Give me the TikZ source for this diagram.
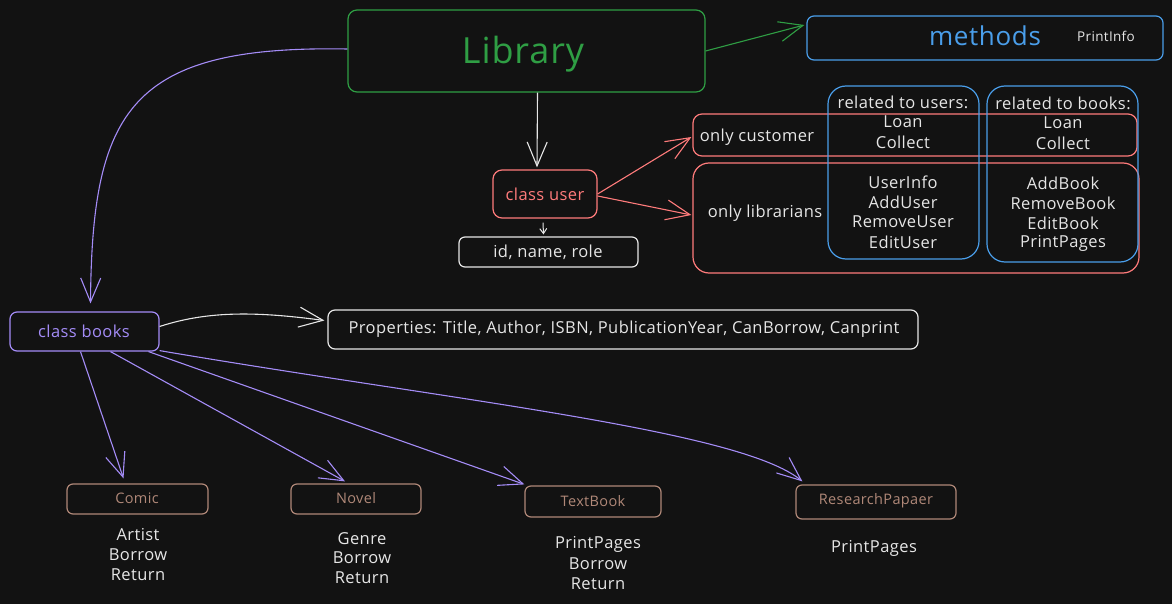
\documentclass[tikz,border=0pt]{standalone}
\usepackage{fontspec}
\setmainfont{Open Sans}[LetterSpace=2.5]
\usetikzlibrary{arrows.meta}
\definecolor{bg}{HTML}{121212}
\definecolor{cgreen}{HTML}{2F9E44}
\definecolor{cblue}{HTML}{4A9EEA}
\definecolor{cred}{HTML}{FF7B7B}
\definecolor{cpurple}{HTML}{A48CF7}
\definecolor{cbrown}{HTML}{B08878}
\definecolor{cwhite}{HTML}{E6E6E6}
\tikzset{
  box/.style={draw, rounded corners=9pt, line width=1.2pt, inner sep=0pt},
  txt/.style={text=cwhite, font=\fontsize{16.5}{18}\selectfont, inner sep=0pt},
  arr/.style={line width=1.1pt, -{Straight Barb[length=24pt, width=20pt, line width=1.1pt]}},
  sarr/.style={line width=1pt, -{Straight Barb[length=5pt, width=7pt, line width=1pt]}},
}
\begin{document}
\begin{tikzpicture}[x=1pt, y=-1pt]
\fill[bg] (0,0) rectangle (1172,604);
\useasboundingbox (0,0) rectangle (1172,604);

% Library
\node[box, draw=cgreen, minimum width=357pt, minimum height=82pt] (lib) at (526.5,51) {};
\node[text=cgreen, font=\fontsize{36}{40}\selectfont] (libt) at (523,54) {Library};

% methods
\node[box, draw=cblue, minimum width=356pt, minimum height=44pt, rounded corners=7pt] (meth) at (985,38) {};
\node[text=cblue, font=\fontsize{26}{30}\selectfont, inner sep=0pt] (metht) at (985,36) {methods};
\node[txt, font=\fontsize{13.5}{16}\selectfont] (pinfo) at (1106,36) {PrintInfo};

% class user
\node[box, draw=cred, minimum width=104pt, minimum height=48pt] (user) at (545,194) {};
\node[text=cred, font=\fontsize{16.5}{18}\selectfont] (usert) at (545,194) {class user};
\node[box, draw=cwhite, minimum width=179pt, minimum height=30pt, rounded corners=6pt] (ids) at (548.5,252) {};
\node[txt] (idst) at (548,252) {id, name, role};

% red boxes
\node[box, draw=cred, minimum width=444pt, minimum height=42pt] (cust) at (915,135) {};
\node[box, draw=cred, minimum width=446pt, minimum height=110pt, rounded corners=16pt] (libr) at (916,218) {};
\node[txt] (custt) at (757,137) {only customer};
\node[txt] (librt) at (765,213) {only librarians};

% blue boxes
\node[box, draw=cblue, minimum width=151pt, minimum height=173pt, rounded corners=18pt] (ub) at (903.5,172.5) {};
\node[box, draw=cblue, minimum width=151pt, minimum height=176pt, rounded corners=18pt] (bb) at (1062.5,174) {};
\node[txt] (ubh) at (903,102) {related to users:};
\node[txt] (bbh) at (1063,103) {related to books:};
\node[txt] (u1) at (903,122) {Loan};
\node[txt] (u2) at (903,142) {Collect};
\node[txt] (u3) at (903,182) {UserInfo};
\node[txt] (u4) at (903,202) {AddUser};
\node[txt] (u5) at (903,222) {RemoveUser};
\node[txt] (u6) at (903,242) {EditUser};
\node[txt] (b1) at (1063,123) {Loan};
\node[txt] (b2) at (1063,143) {Collect};
\node[txt] (b3) at (1063,183) {AddBook};
\node[txt] (b4) at (1063,203) {RemoveBook};
\node[txt] (b5) at (1063,223) {EditBook};
\node[txt] (b6) at (1063,243) {PrintPages};

% class books
\node[box, draw=cpurple, minimum width=149pt, minimum height=39pt, rounded corners=7pt] (books) at (84.5,331.5) {};
\node[text=cpurple, font=\fontsize{16.5}{18}\selectfont] (bookst) at (84,331) {class books};
\node[box, draw=cwhite, minimum width=590pt, minimum height=39pt, rounded corners=7pt] (props) at (623,329.5) {};
\node[txt] (propst) at (624,329) {Properties: Title, Author, ISBN, PublicationYear, CanBorrow, Canprint};

% subclasses
\node[box, draw=cbrown, minimum width=141pt, minimum height=30pt, rounded corners=6pt] (comic) at (137.5,499) {};
\node[text=cbrown, font=\fontsize{14.5}{17}\selectfont] (comict) at (137,498) {Comic};
\node[box, draw=cbrown, minimum width=130pt, minimum height=30pt, rounded corners=6pt] (novel) at (356,499) {};
\node[text=cbrown, font=\fontsize{14.5}{17}\selectfont] (novelt) at (356,498) {Novel};
\node[box, draw=cbrown, minimum width=136pt, minimum height=31pt, rounded corners=6pt] (tb) at (593,501.5) {};
\node[text=cbrown, font=\fontsize{14.5}{17}\selectfont] (tbt) at (593,501) {TextBook};
\node[box, draw=cbrown, minimum width=160pt, minimum height=34pt, rounded corners=6pt] (rp) at (876,502) {};
\node[text=cbrown, font=\fontsize{14.5}{17}\selectfont] (rpt) at (876,501) {ResearchPapaer};

\node[txt] (c1) at (138,535) {Artist};
\node[txt] (c2) at (138,555) {Borrow};
\node[txt] (c3) at (138,575) {Return};
\node[txt] (n1) at (362,539) {Genre};
\node[txt] (n2) at (362,558) {Borrow};
\node[txt] (n3) at (362,578) {Return};
\node[txt] (t1) at (598,544) {PrintPages};
\node[txt] (t2) at (598,564) {Borrow};
\node[txt] (t3) at (598,584) {Return};
\node[txt] (r1) at (874,548) {PrintPages};

% connectors
\draw[arr, cgreen] (lib.east) -- ([xshift=-2pt, yshift=13pt]meth.west);
\draw[arr, cwhite] ([xshift=11pt]lib.south) -- ([xshift=-8pt, yshift=2pt]user.north);
\draw[sarr, cwhite] ([xshift=-2pt, yshift=-4pt]user.south) -- ([xshift=-5pt, yshift=2pt]ids.north);
\draw[arr, cred] (user.east) -- ([xshift=-1pt, yshift=-2pt]cust.west);
\draw[arr, cred] ([yshift=-2pt]user.east) -- ([xshift=-1pt, yshift=3pt]libr.west);
\draw[arr, cpurple] ([yshift=2pt]lib.west) .. controls (130,45) and (92,110) .. ([xshift=6pt, yshift=8pt]books.north);
\draw[arr, cwhite] ([yshift=5pt]books.east) .. controls (210,310) and (260,312) .. ([xshift=-3pt, yshift=9pt]props.west);
\draw[arr, cpurple] ([xshift=-4pt]books.south) -- ([xshift=-14pt, yshift=5pt]comic.north);
\draw[arr, cpurple] ([xshift=26pt]books.south) -- ([xshift=-11pt, yshift=2pt]novel.north);
\draw[arr, cpurple] ([xshift=64pt]books.south) -- ([yshift=1pt]tb.north west);
\draw[arr, cpurple] ([yshift=1pt]books.south east) .. controls (450,400) and (740,430) .. ([xshift=7pt, yshift=3pt]rp.north west);
\end{tikzpicture}
\end{document}
